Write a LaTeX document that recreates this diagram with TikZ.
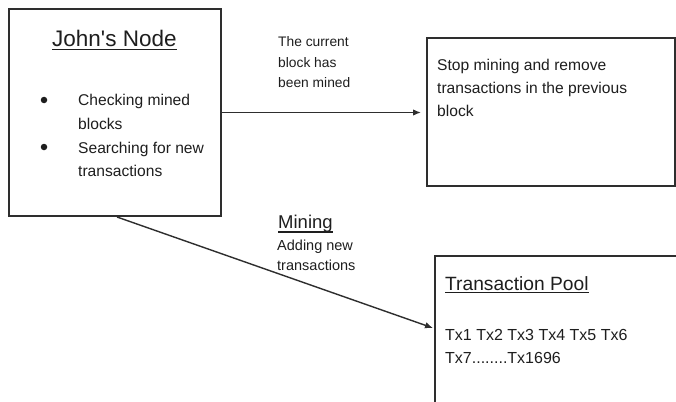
\documentclass[tikz,border=0pt]{standalone}
\usepackage{fontspec}
\setmainfont{Liberation Sans}
\usetikzlibrary{arrows.meta,calc}
\definecolor{ink}{HTML}{1E1E1E}
\definecolor{edge}{HTML}{2E2E2E}
% underlined text with a rule of fixed depth
\newcommand\ulinetext[2][2.6pt]{\setbox0\hbox{#2}\rlap{\rule[-#1]{\wd0}{1.2pt}}\box0}
\begin{document}
\begin{tikzpicture}[x=1pt,y=-1pt,
  box/.style={draw=edge,line width=2pt,fill=white,inner sep=0pt,anchor=north west},
  txt/.style={anchor=base west,inner sep=0pt,text=ink},
  body/.style={txt,font=\fontsize{15.6}{19}\selectfont},
  small/.style={txt,font=\fontsize{13.8}{17}\selectfont},
  flow/.style={draw=edge,line width=1.4pt,-{Latex[length=8pt,width=6.5pt]}},
  bulletdot/.style={circle,fill=ink,inner sep=0pt,minimum size=6.5pt}]
\clip (0,0) rectangle (676,401);
\fill[white] (0,0) rectangle (676,401);

% boxes
\node[box,minimum width=212pt,minimum height=207pt] (john) at (8,8) {};
\node[box,minimum width=248pt,minimum height=148pt] (stop) at (426,37) {};
\node[box,minimum width=262pt,minimum height=170pt] (pool) at (434,255) {};

% John's node contents
\node[txt,font=\fontsize{22.5}{27}\selectfont] (jtitle) at (52,47) {\ulinetext[3pt]{John\textquotesingle s Node}};
\node[bulletdot] (b1) at (44,100) {};
\node[bulletdot] (b2) at (44,147) {};
\node[body] (j1) at (78,106) {Checking mined};
\node[body] (j2) at (78,129.5) {blocks};
\node[body] (j3) at (78,153) {Searching for new};
\node[body] (j4) at (78,176.5) {transactions};

% stop box contents
\node[body] (s1) at (437,71) {Stop mining and remove};
\node[body] (s2) at (437,94) {transactions in the previous};
\node[body] (s3) at (437,117) {block};

% transaction pool contents
\node[txt,font=\fontsize{19.2}{23}\selectfont] (ptitle) at (445,290) {\ulinetext[3pt]{Transaction Pool}};
\node[body,font=\fontsize{16}{19}\selectfont] (p1) at (445,340) {Tx1 Tx2 Tx3 Tx4 Tx5 Tx6};
\node[body,font=\fontsize{16}{19}\selectfont] (p2) at (445,363) {Tx7........Tx1696};

% arrow labels
\node[small] (l1) at (278,47) {The current};
\node[small] (l2) at (278,67.5) {block has};
\node[small] (l3) at (278,88) {been mined};
\node[txt,font=\fontsize{18.5}{22}\selectfont] (m0) at (278,228) {\ulinetext[4.5pt]{Mining}};
\node[small,font=\fontsize{14.5}{17}\selectfont] (m1) at (277,250) {Adding new};
\node[small,font=\fontsize{14.5}{17}\selectfont] (m2) at (277,270) {transactions};

% connectors
\draw[flow,shorten >=5pt] (john.east) -- (john.east -| stop.west);
\coordinate (mstart) at ($(john.south west)+(109,0)$);
\coordinate (mend) at ($(pool.north west)+(-1,73)$);
\draw[flow] (mstart) -- (mend);
\end{tikzpicture}
\end{document}
